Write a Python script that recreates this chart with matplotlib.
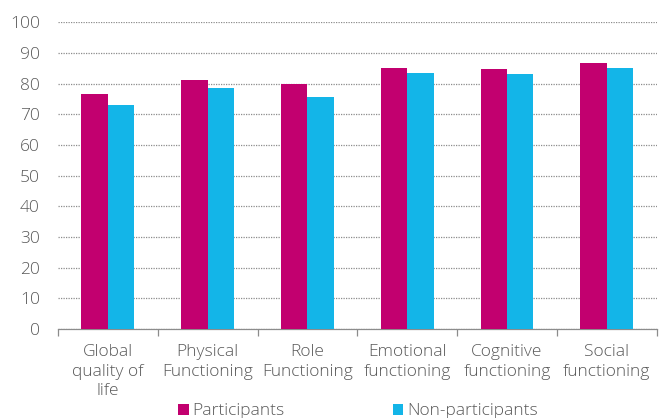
import matplotlib
matplotlib.use("Agg")
import matplotlib.pyplot as plt
import numpy as np

plt.rcParams['font.family'] = ['Open Sans', 'DejaVu Sans']

# data
categories = ["Global\nquality of\nlife", "Physical\nFunctioning", "Role\nFunctioning",
              "Emotional\nfunctioning", "Cognitive\nfunctioning", "Social\nfunctioning"]
participants = [76.5, 81.2, 79.9, 85.1, 84.7, 86.7]
non_participants = [73.0, 78.5, 75.5, 83.3, 83.0, 85.0]
series_names = ["Participants", "Non-participants"]

col_p = "#C2006F"
col_n = "#13B5E8"
txt = "#595959"
fs = 12.5

fig = plt.figure(figsize=(6.63, 4.18), dpi=100)
ax = fig.add_axes([0.0875, 0.213, 0.903, 0.7337])

x = np.arange(len(categories))
w = 0.265
ax.bar(x - w/2, participants, w, color=col_p, label=series_names[0], zorder=3)
ax.bar(x + w/2, non_participants, w, color=col_n, label=series_names[1], zorder=3)

ax.set_ylim(0, 100)
ax.set_xlim(-0.5, len(categories) - 0.5)
ax.set_yticks(range(0, 101, 10))
ax.yaxis.grid(True, linestyle=(0, (1, 1)), color="#8c8c8c", linewidth=0.9, zorder=0)
ax.tick_params(axis='y', length=0, labelsize=fs, labelcolor=txt, pad=13)
for t in ax.get_yticklabels():
    t.set_fontweight('light')

# boundary ticks with no labels, centred category labels on minor ticks
ax.set_xticks(np.arange(-0.5, len(categories), 1.0))
ax.set_xticklabels([])
ax.tick_params(axis='x', which='major', length=5, color="#8c8c8c", width=0.9)
ax.set_xticks(x, minor=True)
ax.set_xticklabels(categories, minor=True, fontsize=fs, color=txt, linespacing=1.28,
                   fontweight='light')
ax.tick_params(axis='x', which='minor', length=0, pad=11)

for s in ['top', 'right', 'left']:
    ax.spines[s].set_visible(False)
ax.spines['bottom'].set_color("#8c8c8c")
ax.spines['bottom'].set_linewidth(0.9)

fig.legend(loc='center', bbox_to_anchor=(0.54, 0.016), ncol=2, frameon=False,
           prop={'size': fs, 'weight': 'light'}, labelcolor=txt,
           handlelength=0.62, handleheight=0.62,
           handletextpad=0.2, columnspacing=6.2, borderpad=0)

fig.savefig("out.png", dpi=100)
